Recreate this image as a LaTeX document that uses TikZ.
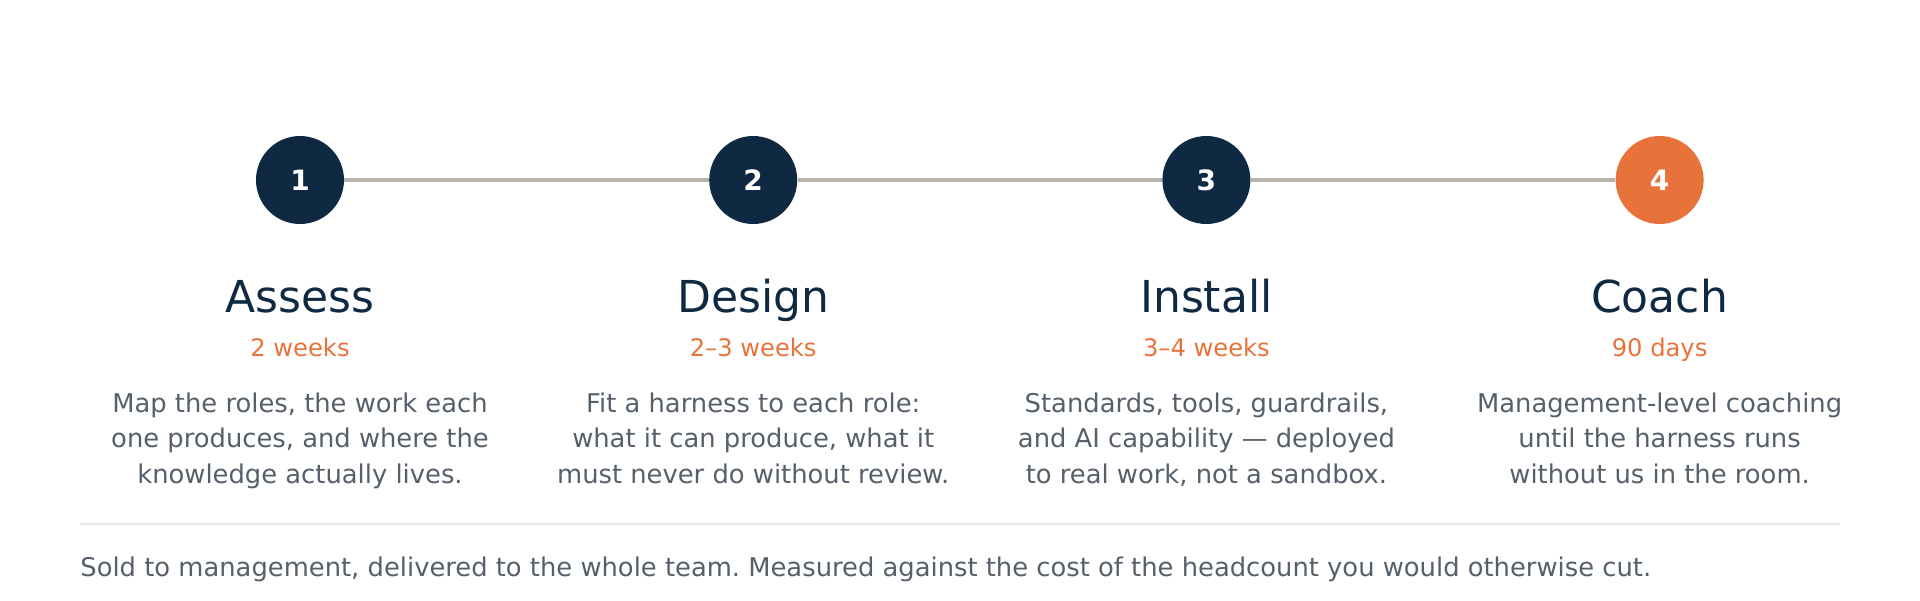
\documentclass[tikz,border=0pt]{standalone}
\usepackage{fontspec}
\setmainfont{DejaVu Sans}
\usepackage{xcolor}
\usetikzlibrary{positioning}
\frenchspacing
\definecolor{navy}{HTML}{0F2942}
\definecolor{ember}{HTML}{E8733A}
\definecolor{railgray}{HTML}{B9B3AE}
\definecolor{slate}{HTML}{56606B}
\definecolor{rulegray}{HTML}{E6E6E6}
\tikzstyle{stepnum} = [circle, fill=navy, text=white, minimum size=44pt, inner sep=0pt, font=\bfseries\fontsize{14}{14}\selectfont]
\tikzstyle{laststep} = [stepnum, fill=ember]
\tikzstyle{phase} = [anchor=base, text=navy, inner sep=0pt, font=\fontsize{22}{26}\selectfont]
\tikzstyle{phasetime} = [anchor=base, text=ember, inner sep=0pt, font=\fontsize{12.1}{14}\selectfont]
\tikzstyle{blurb} = [anchor=base, text=slate, align=center, inner sep=0pt, font=\fontsize{12.9}{17.75}\selectfont]
\tikzstyle{rail} = [draw=railgray, line width=1.75pt]
\tikzstyle{divider} = [draw=rulegray, line width=1pt]

\begin{document}
\begin{tikzpicture}[x=0.5pt, y=-0.5pt]
\useasboundingbox (0,0) rectangle (1920,600);

% step markers
\node[stepnum] (step1) at (300,180) {1};
\node[stepnum, right=182.2pt of step1] (step2) {2};
\node[stepnum, right=182.2pt of step2] (step3) {3};
\node[laststep, right=182.2pt of step3] (step4) {4};

\draw[rail] (step1) -- (step2);
\draw[rail] (step2) -- (step3);
\draw[rail] (step3) -- (step4);

% phase names
\node[phase] (phase1) at (step1 |- 0,312) {Assess};
\node[phase] (phase2) at (step2 |- 0,312) {Design};
\node[phase] (phase3) at (step3 |- 0,312) {Install};
\node[phase] (phase4) at (step4 |- 0,312) {Coach};

% durations
\node[phasetime] (time1) at (step1 |- 0,356) {2 weeks};
\node[phasetime] (time2) at (step2 |- 0,356) {2–3 weeks};
\node[phasetime] (time3) at (step3 |- 0,356) {3–4 weeks};
\node[phasetime] (time4) at (step4 |- 0,356) {90 days};

% descriptions (base = last line)
\node[blurb] (text1) at (step1 |- 0,483) {Map the roles, the work each\\one produces, and where the\\knowledge actually lives.};
\node[blurb] (text2) at (step2 |- 0,483) {Fit a harness to each role:\\what it can produce, what it\\must never do without review.};
\node[blurb] (text3) at (step3 |- 0,483) {Standards, tools, guardrails,\\and AI capability — deployed\\to real work, not a sandbox.};
\node[blurb] (text4) at (step4 |- 0,483) {Management-level coaching\\until the harness runs\\without us in the room.};

% footer
\coordinate (ruleL) at (80,524);
\coordinate (ruleR) at (1840,524);
\draw[divider] (ruleL) -- (ruleR);
\node[anchor=base west, text=slate, inner sep=0pt, font=\fontsize{12.9}{17.75}\selectfont] (footnote) at (80,576) {Sold to management, delivered to the whole team. Measured against the cost of the headcount you would otherwise cut.};

\end{tikzpicture}
\end{document}
